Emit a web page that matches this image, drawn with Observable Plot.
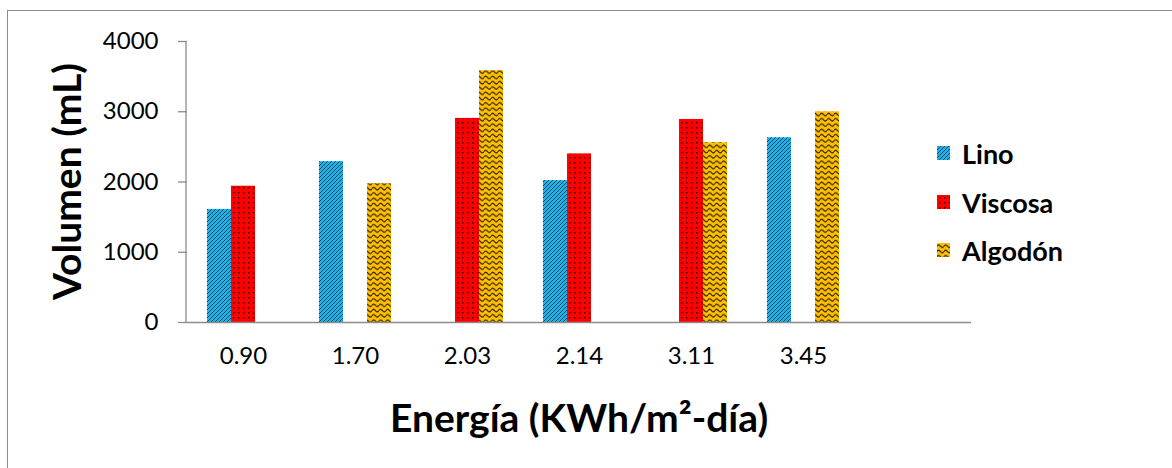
<!DOCTYPE html>
<html>
<head>
<meta charset="utf-8">
<script src="https://cdn.jsdelivr.net/npm/d3@7"></script>
<script src="https://cdn.jsdelivr.net/npm/@observablehq/plot@0.6"></script>
<style>
  html, body { margin: 0; padding: 0; background: #fff; }
  #wrap { position: relative; width: 1172px; height: 468px; overflow: hidden; font-family: Lato, "Open Sans", sans-serif; color: #000; }
  #frame { position: absolute; left: 7px; top: 10px; width: 1300px; height: 600px; border-left: 1.5px solid #8c8c8c; border-top: 1.5px solid #8c8c8c; box-sizing: border-box; }
  #chart { position: absolute; left: 0; top: 0; }
  .leg { position: absolute; left: 937px; height: 40px; display: flex; align-items: center; font-weight: bold; font-size: 27px; }
  .leg svg { margin-right: 12px; }
</style>
</head>
<body>
<svg width="0" height="0" style="position:absolute">
  <defs>
    <pattern id="pat-lino" patternUnits="userSpaceOnUse" width="4" height="4">
      <rect width="4" height="4" fill="#1DB2EA"></rect>
      <path d="M-1,1 L1,-1 M0,4 L4,0 M3,5 L5,3" stroke="#173648" stroke-width="0.9"></path>
    </pattern>
    <pattern id="pat-viscosa" patternUnits="userSpaceOnUse" width="5" height="5">
      <rect width="5" height="5" fill="#FF0000"></rect>
      <rect x="2" y="2" width="1.5" height="1.5" fill="#300000"></rect>
    </pattern>
    <pattern id="pat-algodon" patternUnits="userSpaceOnUse" width="7" height="5.3">
      <rect width="7" height="5.3" fill="#FFC000"></rect>
      <path d="M0,3.2 Q1.75,0.8 3.5,3.2 T7,3.2" stroke="#3a2800" stroke-width="1.3" fill="none"></path>
    </pattern>
  </defs>
</svg>
<div id="wrap">
  <div id="frame"></div>
  <div id="chart"></div>
</div>
<script>
// ---- data ----
const energia = ["0.90", "1.70", "2.03", "2.14", "3.11", "3.45"];
const series = ["Lino", "Viscosa", "Algodón"];
const lino    = [1610, 2290, null, 2020, null, 2630];
const viscosa = [1940, null, 2905, 2400, 2890, null];
const algodon = [null, 1975, 3585, null, 2560, 3000];
const yTicks = [0, 1000, 2000, 3000, 4000];
const yTitle = "Volumen (mL)";
const xTitle = "Energía (KWh/m²-día)";

const patternIds = ["pat-lino", "pat-viscosa", "pat-algodon"];
const valuesBySeries = [lino, viscosa, algodon];

const rows = [];
series.forEach((s, si) => {
  energia.forEach((e, ei) => {
    const v = valuesBySeries[si][ei];
    if (v != null) rows.push({energia: e, serie: s, valor: v});
  });
});

// the original axis has a 7th, empty category slot
const blankCategory = " ";
const fxDomain = [...energia, blankCategory];
rows.push({energia: blankCategory, serie: series[0], valor: null});

const chart = Plot.plot({
  width: 1172,
  height: 468,
  marginLeft: 186,
  marginRight: 200,
  marginTop: 41,
  marginBottom: 146,
  style: {fontFamily: "Lato, 'Open Sans', sans-serif", background: "transparent", color: "#000", overflow: "visible"},
  fx: {domain: fxDomain, paddingInner: 0, paddingOuter: 0, label: null},
  x: {domain: series, paddingInner: 0, paddingOuter: 0.776, axis: null},
  y: {domain: [0, 4000]},
  color: {domain: series, range: patternIds.map(id => `url(#${id})`)},
  marks: [
    Plot.barY(rows, {fx: "energia", x: "serie", y: "valor", fill: "serie"}),
    Plot.ruleY([0], {stroke: "#8c8c8c", strokeWidth: 1.5}),
    Plot.axisY({ticks: yTicks, tickSize: 9, tickPadding: 20, fontSize: 24, stroke: "#8c8c8c", strokeWidth: 1.3, label: null, tickFormat: d => String(d)}),
    Plot.axisFx({anchor: "bottom", tickSize: 0, tickPadding: 24, fontSize: 24, label: null})
  ]
});

document.getElementById("chart").appendChild(chart);

const svg = d3.select(chart);
const yScale = chart.scale("y");
const yr = yScale.range;
const fxr = chart.scale("fx").range;
let fxLo = Math.min(...fxr), fxHi = Math.max(...fxr);
if (fxLo < 100) { fxLo += 186; fxHi += 186; } // fx range may be given relative to the frame
const yMid = (yr[0] + yr[1]) / 2;

// vertical value-axis line
svg.append("line")
  .attr("x1", fxLo).attr("x2", fxLo)
  .attr("y1", Math.min(...yr)).attr("y2", Math.max(...yr))
  .attr("stroke", "#8c8c8c").attr("stroke-width", 1.3);

// axis titles
svg.append("text")
  .attr("transform", `translate(81,${yMid}) rotate(-90)`)
  .attr("text-anchor", "middle")
  .attr("font-size", 39)
  .attr("font-weight", "bold")
  .attr("fill", "#000")
  .text(yTitle);

svg.append("text")
  .attr("x", (fxLo + fxHi) / 2)
  .attr("y", 432)
  .attr("text-anchor", "middle")
  .attr("font-size", 39)
  .attr("font-weight", "bold")
  .attr("fill", "#000")
  .text(xTitle);

// legend
const wrap = document.getElementById("wrap");
const legendCenters = [153, 202, 250];
series.forEach((s, i) => {
  const div = document.createElement("div");
  div.className = "leg";
  div.style.top = (legendCenters[i] - 20) + "px";
  div.innerHTML = `<svg width="13" height="14"><rect width="13" height="14" fill="url(#${patternIds[i]})"></rect></svg><span>${s}</span>`;
  wrap.appendChild(div);
});
</script>
</body>
</html>
